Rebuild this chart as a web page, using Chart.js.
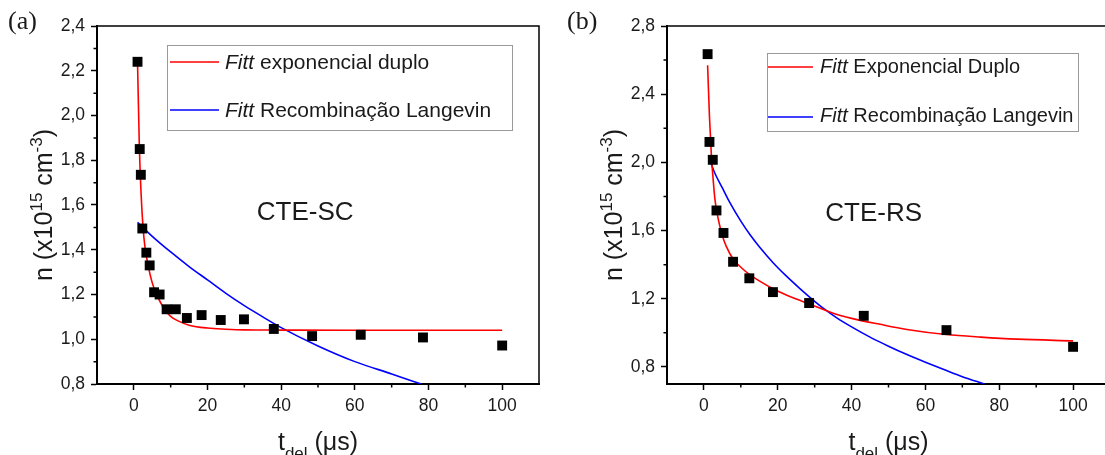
<!DOCTYPE html>
<html>
<head>
<meta charset="utf-8">
<script src="https://cdn.jsdelivr.net/npm/chart.js@4.4.1/dist/chart.umd.min.js"></script>
<style>
    html, body { margin: 0; padding: 0; background: #fff; overflow: hidden; width: 1105px; height: 455px; }
    .pane { position: absolute; top: 0; width: 560px; height: 455px; }
</style>
</head>
<body>
<div class="pane" style="left:0"><canvas id="chartA"></canvas></div>
<div class="pane" style="left:560px"><canvas id="chartB"></canvas></div>
<script>
// (a) CTE-SC - pontos medidos
const tA = [1.0, 1.6, 1.9, 2.3, 3.4, 4.3, 5.5, 7.0, 8.9, 11.4, 14.4, 18.4, 23.6, 29.9, 38.0, 48.4, 61.6, 78.5, 100.0];
const nA = [2.24, 1.85, 1.735, 1.495, 1.387, 1.33, 1.21, 1.20, 1.134, 1.134, 1.095, 1.108, 1.086, 1.089, 1.046, 1.014, 1.02, 1.008, 0.972];
// fitt exponencial duplo (a)
const fitExpTA = [1.0, 1.5, 2.0, 2.5, 3.0, 4.0, 5.0, 6.0, 8.0, 10, 12, 15, 20, 25, 30, 40, 60, 80, 100];
const fitExpNA = [2.24, 1.86, 1.64, 1.50, 1.415, 1.32, 1.252, 1.207, 1.142, 1.102, 1.082, 1.063, 1.05, 1.045, 1.042, 1.041, 1.04, 1.04, 1.04];
// fitt Langevin (a)
const fitLanTA = [1, 5, 10, 15, 20, 25, 30, 35, 40, 50, 60, 70, 78];
const fitLanNA = [1.522, 1.46, 1.39, 1.325, 1.265, 1.205, 1.15, 1.10, 1.052, 0.97, 0.90, 0.845, 0.80];

// (b) CTE-RS - pontos medidos
const tB = [1.0, 1.5, 2.4, 3.4, 5.3, 7.9, 12.3, 18.7, 28.5, 43.3, 65.7, 100.0];
const nB = [2.635, 2.12, 2.015, 1.718, 1.586, 1.417, 1.32, 1.239, 1.175, 1.10, 1.016, 0.918];
// fitt exponencial duplo (b)
const fitExpTB = [1.0, 1.5, 2.0, 2.5, 3.0, 4.0, 5.0, 6.0, 8.0, 10, 12.5, 15, 18.6, 22, 25, 28.5, 32, 35, 40, 47.7, 55, 65.7, 75, 85, 100];
const fitExpNB = [2.57, 2.27, 2.05, 1.90, 1.78, 1.655, 1.57, 1.51, 1.43, 1.385, 1.34, 1.305, 1.26, 1.225, 1.198, 1.17, 1.14, 1.115, 1.085, 1.05, 1.02, 0.99, 0.975, 0.963, 0.953];
// fitt Langevin (b)
const fitLanTB = [1.2, 3, 5, 7, 10, 12.5, 15, 18.8, 22, 26, 30, 32.3, 36, 40, 45, 50, 55, 60, 65, 70, 76];
const fitLanNB = [2.035, 1.935, 1.85, 1.765, 1.655, 1.575, 1.505, 1.41, 1.34, 1.26, 1.185, 1.145, 1.088, 1.035, 0.975, 0.922, 0.873, 0.828, 0.785, 0.743, 0.70];

// eixos
const xTicks = [0, 20, 40, 60, 80, 100];
const xMinor = [10, 30, 50, 70, 90];
const yTicksA = [0.8, 1.0, 1.2, 1.4, 1.6, 1.8, 2.0, 2.2, 2.4];
const yMinorA = [0.9, 1.1, 1.3, 1.5, 1.7, 1.9, 2.1, 2.3];
const yTicksB = [0.8, 1.2, 1.6, 2.0, 2.4, 2.8];
const yMinorB = [1.0, 1.4, 1.8, 2.2, 2.6];
const legendA = ['exponencial duplo', 'Recombinação Langevin'];
const legendB = ['Exponencial Duplo', 'Recombinação Langevin'];

const SANS = '"Liberation Sans", Arial, sans-serif';
const TXT = '#1a1a1a';

const pts = (xs, ys) => xs.map((x, i) => ({ x: x, y: ys[i] }));
const fmtY = v => v.toFixed(1).replace('.', ',');

function axisCfg(min, max, vals, isY) {
    return {
        type: 'linear',
        min: min,
        max: max,
        afterBuildTicks: s => { s.ticks = vals.map(v => ({ value: v })); },
        afterFit: s => { if (isY) s.width = 60; else s.height = 50; },
        ticks: {
            color: TXT,
            font: { family: SANS, size: 17.5 },
            padding: 6,
            autoSkip: false,
            maxRotation: 0,
            callback: isY ? fmtY : (v => String(v))
        },
        grid: { drawOnChartArea: false, drawTicks: true, tickLength: 6, tickWidth: 1.5, tickColor: '#000' },
        border: { display: true, color: '#000', width: 2 }
    };
}

function rich(ctx, parts, x, y) {
    let w = 0;
    parts.forEach(p => { ctx.font = p.f; w += ctx.measureText(p.t).width; });
    let cx = x - w / 2;
    parts.forEach(p => {
        ctx.font = p.f;
        ctx.fillText(p.t, cx, y + (p.dy || 0));
        cx += ctx.measureText(p.t).width;
    });
}

function deco(o) {
    return {
        id: 'deco' + o.tag,
        afterDraw(chart) {
            const ctx = chart.ctx, a = chart.chartArea;
            const sx = chart.scales.x, sy = chart.scales.y;
            ctx.save();
            ctx.strokeStyle = '#000';
            ctx.lineWidth = 1.5;
            // moldura topo / direita
            ctx.beginPath();
            ctx.moveTo(a.left, a.top);
            ctx.lineTo(a.right, a.top);
            ctx.lineTo(a.right, a.bottom);
            ctx.stroke();
            // ticks menores
            ctx.beginPath();
            o.xMinor.forEach(v => { const px = sx.getPixelForValue(v); ctx.moveTo(px, a.bottom); ctx.lineTo(px, a.bottom + 3.5); });
            o.yMinor.forEach(v => { const py = sy.getPixelForValue(v); ctx.moveTo(a.left, py); ctx.lineTo(a.left - 3.5, py); });
            ctx.stroke();

            ctx.fillStyle = TXT;
            ctx.textAlign = 'left';
            ctx.textBaseline = 'alphabetic';

            // titulo eixo x
            rich(ctx, [
                { t: 't', f: '25px ' + SANS },
                { t: 'del', f: '17px ' + SANS, dy: 9 },
                { t: ' (μs)', f: '25px ' + SANS }
            ], (a.left + a.right) / 2, 450);

            // titulo eixo y
            ctx.save();
            ctx.translate(a.left - 45, (a.top + a.bottom) / 2);
            ctx.rotate(-Math.PI / 2);
            rich(ctx, [
                { t: 'n (x10', f: '25px ' + SANS },
                { t: '15', f: '17px ' + SANS, dy: -10 },
                { t: ' cm', f: '25px ' + SANS },
                { t: '-3', f: '17px ' + SANS, dy: -10 },
                { t: ')', f: '25px ' + SANS }
            ], 0, 0);
            ctx.restore();

            // letra do painel
            ctx.font = '26px "Liberation Serif", "Times New Roman", serif';
            ctx.fillText(o.letter, o.letterX, 29);

            // nome da amostra
            ctx.font = '26px ' + SANS;
            ctx.textAlign = 'center';
            ctx.textBaseline = 'middle';
            ctx.fillText(o.sample, sx.getPixelForValue(o.sampleAt[0]), sy.getPixelForValue(o.sampleAt[1]));

            // legenda
            const L = o.legend;
            ctx.strokeStyle = '#9a9a9a';
            ctx.lineWidth = 1;
            ctx.strokeRect(L.x + 0.5, L.y + 0.5, L.w, L.h);
            ctx.textAlign = 'left';
            ctx.textBaseline = 'alphabetic';
            ['#ff0000', '#0000ff'].forEach((c, i) => {
                ctx.strokeStyle = c;
                ctx.lineWidth = 1.5;
                ctx.beginPath();
                ctx.moveTo(L.x1, L.lineY[i]);
                ctx.lineTo(L.x2, L.lineY[i]);
                ctx.stroke();
                ctx.fillStyle = TXT;
                ctx.font = 'italic ' + L.size + 'px ' + SANS;
                ctx.fillText('Fitt', L.tx, L.base[i]);
                const w = ctx.measureText('Fitt ').width;
                ctx.font = L.size + 'px ' + SANS;
                ctx.fillText(o.labels[i], L.tx + w, L.base[i]);
            });
            ctx.restore();
        }
    };
}

function makeChart(id, pad, xr, yr, yTicks, data, plugin) {
    return new Chart(document.getElementById(id), {
        type: 'scatter',
        data: {
            datasets: [
                { label: 'dados', data: data.pts, pointStyle: 'rect', pointRadius: 7, backgroundColor: '#000', borderColor: '#000', borderWidth: 0, order: 0 },
                { label: 'exp', data: data.exp, showLine: true, pointRadius: 0, borderColor: '#ff0000', borderWidth: 1.6, cubicInterpolationMode: 'monotone', order: 1 },
                { label: 'lan', data: data.lan, showLine: true, pointRadius: 0, borderColor: '#0000ff', borderWidth: 1.6, cubicInterpolationMode: 'monotone', order: 2 }
            ]
        },
        options: {
            responsive: true,
            maintainAspectRatio: false,
            animation: false,
            events: [],
            layout: { padding: pad },
            scales: {
                x: axisCfg(xr[0], xr[1], xTicks, false),
                y: axisCfg(yr[0], yr[1], yTicks, true)
            },
            plugins: { legend: { display: false }, tooltip: { enabled: false } }
        },
        plugins: [plugin]
    });
}

makeChart('chartA', { left: 37, top: 26, right: 21, bottom: 21 }, [-10, 110], [0.8, 2.4], yTicksA,
    { pts: pts(tA, nA), exp: pts(fitExpTA, fitExpNA), lan: pts(fitLanTA, fitLanNA) },
    deco({
        tag: 'A', xMinor: xMinor, yMinor: yMinorA, letter: '(a)', letterX: 8,
        sample: 'CTE-SC', sampleAt: [46.5, 1.565], labels: legendA,
        legend: { x: 167, y: 45, w: 345, h: 85, x1: 170, x2: 219, tx: 225, lineY: [62, 110], base: [69, 117], size: 21 }
    }));

makeChart('chartB', { left: 47, top: 26, right: 10, bottom: 21 }, [-10, 110], [0.7, 2.8], yTicksB,
    { pts: pts(tB, nB), exp: pts(fitExpTB, fitExpNB), lan: pts(fitLanTB, fitLanNB) },
    deco({
        tag: 'B', xMinor: xMinor, yMinor: yMinorB, letter: '(b)', letterX: 7,
        sample: 'CTE-RS', sampleAt: [46, 1.70], labels: legendB,
        legend: { x: 207, y: 53, w: 311, h: 78, x1: 208, x2: 253, tx: 260, lineY: [67, 117], base: [73, 122], size: 20 }
    }));
</script>
</body>
</html>
